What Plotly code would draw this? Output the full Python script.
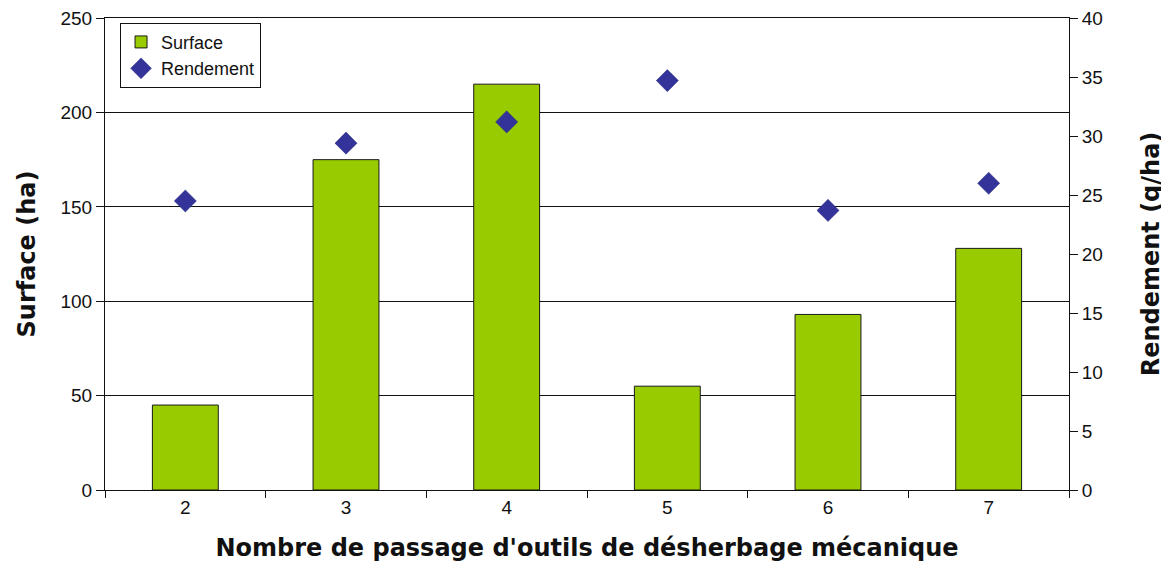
import plotly.graph_objects as go

categories = ["2", "3", "4", "5", "6", "7"]
surface = [45, 175, 215, 55, 93, 128]
rendement = [24.5, 29.4, 31.2, 34.7, 23.7, 26.0]

FONT = "Liberation Sans, Arial, sans-serif"
TFONT = "DejaVu Sans, sans-serif"

fig = go.Figure()
fig.add_trace(go.Bar(
    x=categories, y=surface, name="Surface",
    marker=dict(color="#99CC00", line=dict(color="#1a1a1a", width=1)),
    yaxis="y",
))
fig.add_trace(go.Scatter(
    x=categories, y=rendement, name="Rendement", mode="markers",
    marker=dict(symbol="diamond", size=17, color="#333399",
                line=dict(color="#2a2a80", width=0.5)),
    yaxis="y2",
))

fig.update_layout(
    width=1169, height=578,
    margin=dict(l=97, r=108, t=10, b=96),
    paper_bgcolor="white", plot_bgcolor="white",
    font=dict(family=FONT, size=19, color="#111111"),
    bargap=0.59,
    showlegend=True,
    legend=dict(
        x=0.0156, y=0.99, xanchor="left", yanchor="top",
        bgcolor="white", bordercolor="#111111", borderwidth=1,
        font=dict(family=FONT, size=18, color="#111111"),
        itemwidth=30,
    ),
    xaxis=dict(
        type="category",
        showgrid=False, showline=True, linecolor="#111111", linewidth=1,
        mirror=True,
        ticks="outside", ticklen=7, tickcolor="#111111", tickson="boundaries",
        tickfont=dict(size=19),
        title=dict(text="<b>Nombre de passage d'outils de désherbage mécanique</b>",
                   font=dict(family=TFONT, size=24), standoff=22),
    ),
    yaxis=dict(
        range=[0, 250.05], tick0=0, dtick=50,
        showgrid=True, gridcolor="#111111", gridwidth=1,
        showline=True, linecolor="#111111", linewidth=1,
        ticks="outside", ticklen=8, tickcolor="#111111",
        tickfont=dict(size=19), ticklabeloverflow="allow",
        zeroline=False, automargin=False,
        title=dict(text="<b>Surface (ha)</b>",
                   font=dict(family=TFONT, size=24), standoff=18),
    ),
    yaxis2=dict(
        range=[0, 40.008], tick0=0, dtick=5, overlaying="y", side="right",
        showgrid=False, showline=True, linecolor="#111111", linewidth=1,
        ticks="outside", ticklen=8, tickcolor="#111111",
        tickfont=dict(size=19), ticklabeloverflow="allow",
        zeroline=False, automargin=False,
        title=dict(text="<b>Rendement (q/ha)</b>",
                   font=dict(family=TFONT, size=24), standoff=40),
    ),
)

fig.write_html("out.html")
